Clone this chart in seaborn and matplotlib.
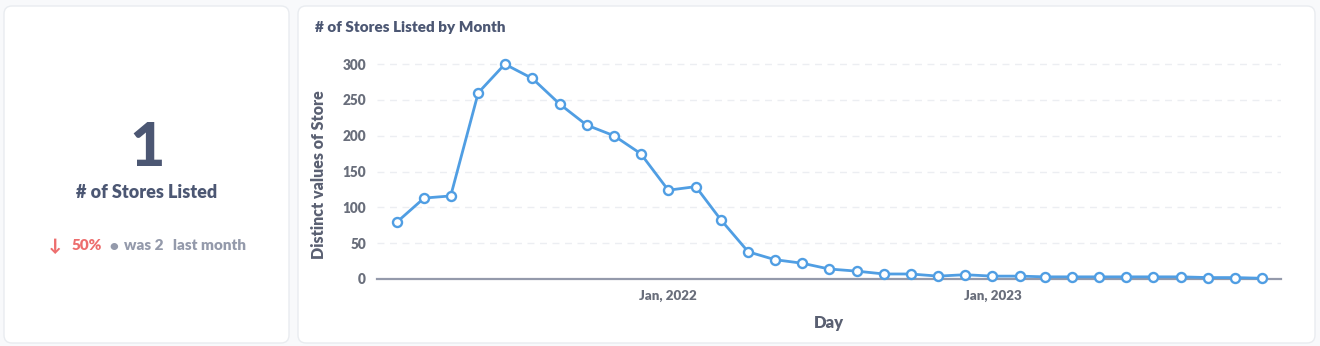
import matplotlib
matplotlib.use("Agg")
import matplotlib.pyplot as plt
from matplotlib.patches import FancyBboxPatch
import pandas as pd
import seaborn as sns

# Monthly distinct store counts
months = pd.date_range("2021-03-01", "2023-11-01", freq="MS")
stores = [79, 113, 116, 260, 300, 280, 244, 215, 200, 175, 124, 129, 83, 38, 27,
          22, 14, 11, 7, 7, 4, 6, 4, 4, 3, 3, 3, 3, 3, 3, 2, 2, 1]
y_ticks = [0, 50, 100, 150, 200, 250, 300]
x_tick_dates = ["2022-01-01", "2023-01-01"]
x_tick_labels = ["Jan, 2022", "Jan, 2023"]

current_value = stores[-1]
previous_value = stores[-2]
pct_change = (current_value - previous_value) / previous_value * 100

sns.set_theme(style="white")
plt.rcParams["font.family"] = ["Lato", "DejaVu Sans"]

DARK = "#4c5773"
MED = "#949aab"
TICK = "#696e7b"
LABEL = "#5a6072"
BLUE = "#509ee3"
RED = "#ed6e6e"
WT = 800

W, H = 1320, 346
fig = plt.figure(figsize=(W / 100, H / 100), dpi=100)
fig.patch.set_facecolor("#f8f9fb")

# Background layer in pixel coordinates for the cards and free text
bg = fig.add_axes([0, 0, 1, 1])
bg.set_xlim(0, W)
bg.set_ylim(H, 0)
bg.axis("off")

bg.add_patch(FancyBboxPatch((6, -20), W - 12, 20, boxstyle="round,pad=0,rounding_size=8",
                            fc="#eef0f4", ec="none"))
for x0, x1 in [(4, 289), (298, 1315)]:
    bg.add_patch(FancyBboxPatch((x0, 6), x1 - x0, 337,
                                boxstyle="round,pad=0,rounding_size=8",
                                fc="white", ec="#e9ecf0", lw=1))

# Scalar card
bg.text(147, 148, f"{current_value}", fontsize=44, fontweight=900, color=DARK,
        ha="center", va="center")
bg.text(147, 193, "# of Stores Listed", fontsize=13, fontweight=WT, color=DARK,
        ha="center", va="center")

arrow = "\u2193" if pct_change < 0 else "\u2191"
pieces = [
    (arrow, RED, 12, 11),
    (f"{abs(pct_change):.0f}%", RED, 11, 7),
    ("\u2022", MED, 11, 6),
    (f"was {previous_value}", MED, 11, 9),
    ("last month", MED, 11, 0),
]
renderer = fig.canvas.get_renderer()
texts = []
total = 0
for s, c, fs, gap in pieces:
    t = bg.text(0, 246, s, fontsize=fs, fontweight=WT, color=c,
                ha="left", va="center")
    w = t.get_window_extent(renderer).width
    texts.append((t, w, gap))
    total += w + gap
x = 147 - total / 2
for t, w, gap in texts:
    t.set_x(x)
    x += w + gap

# Chart card
bg.text(315, 27, "# of Stores Listed by Month", fontsize=11, fontweight=WT,
        color=DARK, ha="left", va="center")

ax = fig.add_axes([377 / W, (H - 279) / H, (1281 - 377) / W, (279 - 57) / H])
ax.set_facecolor("none")
sns.lineplot(x=months, y=stores, ax=ax, color=BLUE, linewidth=2, marker="o",
             markersize=6.5, markerfacecolor="white", markeredgecolor=BLUE,
             markeredgewidth=1.7, clip_on=False, zorder=3)

ax.set_ylim(0, 310)
ax.set_xlim(months[0] - pd.Timedelta(days=22), months[-1] + pd.Timedelta(days=21))
ax.set_yticks(y_ticks)
ax.set_yticklabels([str(v) for v in y_ticks])
ax.grid(axis="y", color="#eceef2", linestyle=(0, (5, 4)), linewidth=1)
ax.grid(axis="x", visible=False)

for side in ["top", "right", "left"]:
    ax.spines[side].set_visible(False)
ax.spines["bottom"].set_color(MED)
ax.spines["bottom"].set_linewidth(1.6)

ax.set_xticks(pd.to_datetime(x_tick_dates))
ax.set_xticklabels(x_tick_labels)
ax.set_xticks(list(ax.get_xlim()), minor=True)
ax.tick_params(axis="x", which="major", length=0, pad=8, labelsize=9.6, labelcolor=TICK)
ax.tick_params(axis="x", which="minor", length=5.5, width=1.5, color=MED, direction="out")
ax.tick_params(axis="y", length=0, pad=8, labelsize=9.8, labelcolor=TICK)
for lbl in ax.get_xticklabels() + ax.get_yticklabels():
    lbl.set_fontweight(WT)

ax.set_xlabel("Day", fontsize=12, fontweight=WT, color=LABEL, labelpad=9)
ax.set_ylabel("Distinct values of Store", fontsize=11.5, fontweight=WT, color=LABEL,
              labelpad=5)
ax.yaxis.set_label_coords(-0.055, 0.47)

fig.savefig("out.png", dpi=100, facecolor=fig.get_facecolor())
